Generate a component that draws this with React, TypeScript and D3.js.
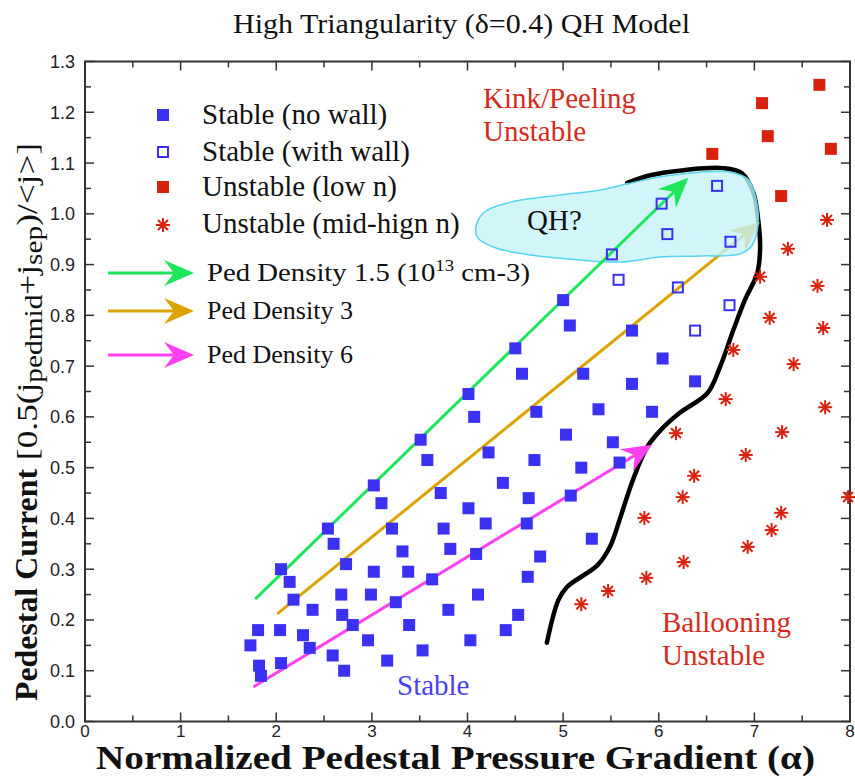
import React from "react";
import * as d3 from "d3";

const W = 855;
const H = 779;

// ---- data ----
const stableNoWall: [number, number][] = [
  [1.73, 0.15], [1.81, 0.18], [1.82, 0.11], [1.84, 0.09], [2.04, 0.18], [2.05, 0.115],
  [2.05, 0.3], [2.14, 0.275], [2.18, 0.24], [2.28, 0.17], [2.35, 0.145], [2.38, 0.22],
  [2.54, 0.38], [2.6, 0.35], [2.59, 0.13], [2.68, 0.25], [2.69, 0.21], [2.71, 0.1],
  [2.73, 0.31], [2.8, 0.19], [2.96, 0.16], [2.99, 0.25], [3.02, 0.295], [3.02, 0.465],
  [3.1, 0.43], [3.16, 0.12], [3.21, 0.38], [3.25, 0.235], [3.32, 0.335], [3.38, 0.295],
  [3.39, 0.19], [3.51, 0.555], [3.53, 0.14], [3.58, 0.515], [3.63, 0.28], [3.72, 0.45],
  [3.75, 0.38], [3.8, 0.22], [3.82, 0.34], [4.01, 0.645], [4.01, 0.42], [4.03, 0.16],
  [4.07, 0.6], [4.09, 0.33], [4.11, 0.25], [4.19, 0.39], [4.22, 0.53], [4.37, 0.47],
  [4.4, 0.18], [4.5, 0.735], [4.53, 0.21], [4.57, 0.685], [4.62, 0.39], [4.63, 0.285],
  [4.64, 0.44], [4.7, 0.515], [4.72, 0.61], [4.76, 0.325], [5.0, 0.83], [5.03, 0.565],
  [5.07, 0.78], [5.08, 0.445], [5.19, 0.5], [5.21, 0.685], [5.3, 0.36], [5.37, 0.615],
  [5.52, 0.55], [5.59, 0.51], [5.72, 0.77], [5.72, 0.665], [5.93, 0.61], [6.04, 0.715],
  [6.38, 0.67],
];

const stableWithWall: [number, number][] = [
  [6.61, 1.055], [6.03, 1.02], [6.09, 0.96], [6.75, 0.945], [5.51, 0.92],
  [5.58, 0.87], [6.2, 0.855], [6.74, 0.82], [6.38, 0.77],
];

const unstableLowN: [number, number][] = [
  [7.68, 1.254], [7.08, 1.218], [7.14, 1.153], [7.8, 1.128], [6.56, 1.118], [7.28, 1.035],
];

const unstableMidHighN: [number, number][] = [
  [7.76, 0.988], [7.35, 0.931], [7.06, 0.876], [7.66, 0.858], [7.16, 0.795], [7.72, 0.775],
  [6.78, 0.732], [7.41, 0.704], [6.7, 0.635], [7.74, 0.619], [6.18, 0.568], [7.29, 0.57],
  [6.91, 0.525], [6.37, 0.484], [6.25, 0.442], [7.98, 0.442], [5.85, 0.401], [7.28, 0.411],
  [7.18, 0.377], [6.93, 0.344], [6.26, 0.314], [5.87, 0.283], [5.47, 0.257], [5.19, 0.231],
];

const stabilityBoundary: [number, number][] = [
  [4.83, 0.155], [4.95, 0.239], [5.04, 0.265], [5.36, 0.308], [5.49, 0.344], [5.6, 0.403],
  [5.73, 0.476], [5.88, 0.541], [6.02, 0.574], [6.22, 0.608], [6.51, 0.647], [6.64, 0.698],
  [6.78, 0.771], [6.9, 0.83], [7.03, 0.883], [7.06, 0.935], [7.04, 0.988], [6.99, 1.041],
  [6.87, 1.08], [6.67, 1.09], [6.26, 1.086], [5.91, 1.076], [5.67, 1.061],
];

const qhRegion: [number, number][] = [
  [4.09, 0.976], [4.18, 1.004], [4.45, 1.023], [4.97, 1.037], [5.39, 1.047], [5.67, 1.059],
  [6.02, 1.073], [6.43, 1.082], [6.75, 1.082], [6.94, 1.067], [7.02, 1.027], [7.04, 0.984],
  [6.98, 0.939], [6.85, 0.921], [6.43, 0.917], [6.02, 0.915], [5.6, 0.905], [5.18, 0.909],
  [4.66, 0.919], [4.29, 0.933], [4.11, 0.952],
];

const densityLabels = ["1.5", "3", "6"];
const densityColors = ["#1ee65a", "#dca300", "#ff40f2"];
const densityStarts: [number, number][] = [[1.78, 0.241], [2.01, 0.212], [1.76, 0.068]];
const densityEnds: [number, number][] = [[6.31, 1.071], [7.06, 0.984], [5.93, 0.545]];

const xTickLabels = ["0", "1", "2", "3", "4", "5", "6", "7", "8"];
const yTickLabels = ["0.0", "0.1", "0.2", "0.3", "0.4", "0.5", "0.6", "0.7", "0.8", "0.9", "1.0", "1.1", "1.2", "1.3"];

// ---- styling ----
const BLUE = "#3b31f3";
const RED = "#d8220e";
const RED_TEXT = "#d52a1c";
const SERIF = "'Liberation Serif', 'Times New Roman', Times, serif";
const SANS = "'Liberation Sans', Arial, Helvetica, sans-serif";
const AXIS = "#333";

const x = d3.scaleLinear().domain([0, 8]).range([85, 850]);
const y = d3.scaleLinear().domain([0, 1.3]).range([721.5, 61.5]);

function arrowHead(tx: number, ty: number, ang: number, L = 30, w = 13, notch = 20) {
  const c = Math.cos(ang), s = Math.sin(ang);
  const pt = (a: number, b: number) => [tx + a * c - b * s, ty + a * s + b * c];
  const p = [pt(0, 0), pt(-L, w), pt(-notch, 0), pt(-L, -w)];
  return p.map((q) => q.join(",")).join(" ");
}

function Arrow({ x1, y1, x2, y2, color }: { x1: number; y1: number; x2: number; y2: number; color: string }) {
  const ang = Math.atan2(y2 - y1, x2 - x1);
  const ex = x2 - 20 * Math.cos(ang);
  const ey = y2 - 20 * Math.sin(ang);
  return (
    <g>
      <line x1={x1} y1={y1} x2={ex} y2={ey} stroke={color} strokeWidth={3} />
      <polygon points={arrowHead(x2, y2, ang)} fill={color} />
    </g>
  );
}

function Star({ cx, cy, r = 7 }: { cx: number; cy: number; r?: number }) {
  const angs = [0, 45, 90, 135];
  return (
    <g stroke={RED} strokeWidth={2}>
      {angs.map((a) => {
        const t = (a * Math.PI) / 180;
        return (
          <line key={a} x1={cx - r * Math.cos(t)} y1={cy - r * Math.sin(t)} x2={cx + r * Math.cos(t)} y2={cy + r * Math.sin(t)} />
        );
      })}
    </g>
  );
}

export default function App() {
  const xMajor = d3.range(0, 9, 1);
  const xMinor = d3.range(0.5, 8, 1);
  const yMajor = d3.range(0, 14).map((i) => i / 10);
  const yMinor = d3.range(0, 13).map((i) => i / 10 + 0.05);
  const [X0, X1] = x.range();
  const [Y0, Y1] = y.range();

  const boundaryPath = d3
    .line<[number, number]>()
    .x((d) => x(d[0]))
    .y((d) => y(d[1]))
    .curve(d3.curveCatmullRom)(stabilityBoundary) as string;
  const qhPath = d3
    .line<[number, number]>()
    .x((d) => x(d[0]))
    .y((d) => y(d[1]))
    .curve(d3.curveCatmullRomClosed)(qhRegion) as string;

  const sq = 12;
  const osq = 10;

  return (
    <svg width={W} height={H} style={{ position: "absolute", left: 0, top: 0, background: "#fff" }}>
      <rect x={0} y={0} width={W} height={H} fill="#fff" />
      {/* title */}
      <text x={233} y={33} textLength={457} lengthAdjust="spacingAndGlyphs" fontFamily={SERIF} fontSize={28} fill="#111">
        High Triangularity (δ=0.4) QH Model
      </text>

      {/* frame */}
      <rect x={X0} y={Y1} width={X1 - X0} height={Y0 - Y1} fill="none" stroke={AXIS} strokeWidth={2} />
      {xMajor.map((v) => (
        <g key={"xM" + v} stroke={AXIS} strokeWidth={1.5}>
          <line x1={x(v)} x2={x(v)} y1={Y0} y2={Y0 - 9} />
          <line x1={x(v)} x2={x(v)} y1={Y1} y2={Y1 + 9} />
        </g>
      ))}
      {xMinor.map((v) => (
        <g key={"xm" + v} stroke={AXIS} strokeWidth={1.5}>
          <line x1={x(v)} x2={x(v)} y1={Y0} y2={Y0 - 6} />
          <line x1={x(v)} x2={x(v)} y1={Y1} y2={Y1 + 6} />
        </g>
      ))}
      {yMajor.map((v) => (
        <g key={"yM" + v} stroke={AXIS} strokeWidth={1.5}>
          <line x1={X0} x2={X0 + 9} y1={y(v)} y2={y(v)} />
          <line x1={X1} x2={X1 - 9} y1={y(v)} y2={y(v)} />
        </g>
      ))}
      {yMinor.map((v) => (
        <g key={"ym" + v} stroke={AXIS} strokeWidth={1.5}>
          <line x1={X0} x2={X0 + 6} y1={y(v)} y2={y(v)} />
          <line x1={X1} x2={X1 - 6} y1={y(v)} y2={y(v)} />
        </g>
      ))}
      {xTickLabels.map((t, i) => (
        <text key={"xl" + t} x={x(xMajor[i])} y={737} textAnchor="middle" fontFamily={SANS} fontSize={17} fill="#222">
          {t}
        </text>
      ))}
      {yTickLabels.map((t, i) => (
        <text key={"yl" + t} x={75} y={y(yMajor[i]) + 6.5} textAnchor="end" fontFamily={SANS} fontSize={18} fill="#222">
          {t}
        </text>
      ))}

      {/* axis titles */}
      <text x={96} y={769} textLength={719} lengthAdjust="spacingAndGlyphs" fontFamily={SERIF} fontWeight="bold" fontSize={33} fill="#111">
        Normalized Pedestal Pressure Gradient (α)
      </text>
      <text transform="translate(37,701) rotate(-90)" textLength={232} lengthAdjust="spacingAndGlyphs" fontFamily={SERIF} fontWeight="bold" fontSize={31} fill="#111">
        Pedestal Current
      </text>
      <text transform="translate(37,460) rotate(-90)" textLength={317} lengthAdjust="spacingAndGlyphs" fontFamily={SERIF} fontSize={30} fill="#111">
        <tspan>[0.5(j</tspan>
        <tspan fontSize={25} dy={5}>pedmid</tspan>
        <tspan dy={-5}>+j</tspan>
        <tspan fontSize={25} dy={5}>sep</tspan>
        <tspan dy={-5}>)/&lt;j&gt;]</tspan>
      </text>

      {/* stability boundary and arrows */}
      <path d={boundaryPath} fill="none" stroke="#000" strokeWidth={4.5} strokeLinecap="round" />
      <Arrow x1={x(densityStarts[1][0])} y1={y(densityStarts[1][1])} x2={x(densityEnds[1][0])} y2={y(densityEnds[1][1])} color={densityColors[1]} />
      <path d={qhPath} fill="#c6f2f8" fillOpacity={0.8} stroke="#55d5ee" strokeWidth={1.5} />
      <Arrow x1={x(densityStarts[0][0])} y1={y(densityStarts[0][1])} x2={x(densityEnds[0][0])} y2={y(densityEnds[0][1])} color={densityColors[0]} />
      <Arrow x1={x(densityStarts[2][0])} y1={y(densityStarts[2][1])} x2={x(densityEnds[2][0])} y2={y(densityEnds[2][1])} color={densityColors[2]} />

      {/* markers */}
      {stableNoWall.map((d, i) => (
        <rect key={"s" + i} x={x(d[0]) - sq / 2} y={y(d[1]) - sq / 2} width={sq} height={sq} fill={BLUE} />
      ))}
      {stableWithWall.map((d, i) => (
        <rect key={"w" + i} x={x(d[0]) - osq / 2} y={y(d[1]) - osq / 2} width={osq} height={osq} fill="none" stroke={BLUE} strokeWidth={2} />
      ))}
      {unstableLowN.map((d, i) => (
        <rect key={"r" + i} x={x(d[0]) - sq / 2} y={y(d[1]) - sq / 2} width={sq} height={sq} fill={RED} />
      ))}
      {unstableMidHighN.map((d, i) => (
        <Star key={"st" + i} cx={x(d[0])} cy={y(d[1])} />
      ))}

      {/* region labels */}
      <text x={483} y={108} fontFamily={SERIF} fontSize={29} fill={RED_TEXT}>Kink/Peeling</text>
      <text x={483} y={141} fontFamily={SERIF} fontSize={29} fill={RED_TEXT}>Unstable</text>
      <text x={662} y={632} fontFamily={SERIF} fontSize={29} fill={RED_TEXT}>Ballooning</text>
      <text x={662} y={665} fontFamily={SERIF} fontSize={29} fill={RED_TEXT}>Unstable</text>
      <text x={397} y={695} fontFamily={SERIF} fontSize={29} fill="#4a3ff0">Stable</text>
      <text x={527} y={230} fontFamily={SERIF} fontSize={29} fill="#111">QH?</text>

      {/* legend */}
      <rect x={157} y={109} width={12} height={12} fill={BLUE} />
      <text x={202} y={124} fontFamily={SERIF} fontSize={29} fill="#111">Stable (no wall)</text>
      <rect x={158} y={147} width={10} height={10} fill="none" stroke={BLUE} strokeWidth={2} />
      <text x={202} y={161} fontFamily={SERIF} fontSize={29} fill="#111">Stable (with wall)</text>
      <rect x={157} y={181} width={12} height={12} fill={RED} />
      <text x={202} y={196} fontFamily={SERIF} fontSize={29} fill="#111">Unstable (low n)</text>
      <Star cx={163} cy={225} />
      <text x={202} y={233} fontFamily={SERIF} fontSize={29} fill="#111">Unstable (mid-hign n)</text>

      {densityLabels.map((lab, i) => {
        const yy = [273, 311, 355][i];
        return (
          <g key={"dl" + i}>
            <Arrow x1={108} y1={yy} x2={194} y2={yy} color={densityColors[i]} />
            {i === 0 ? (
              <text x={207} y={yy + 8} textLength={323} lengthAdjust="spacingAndGlyphs" fontFamily={SERIF} fontSize={26} fill="#111">
                <tspan>Ped Density {lab} (10</tspan>
                <tspan fontSize={17} dy={-10}>13</tspan>
                <tspan dy={10}> cm-3)</tspan>
              </text>
            ) : (
              <text x={207} y={yy + 8} fontFamily={SERIF} fontSize={26} fill="#111">
                {`Ped Density ${lab}`}
              </text>
            )}
          </g>
        );
      })}
    </svg>
  );
}
